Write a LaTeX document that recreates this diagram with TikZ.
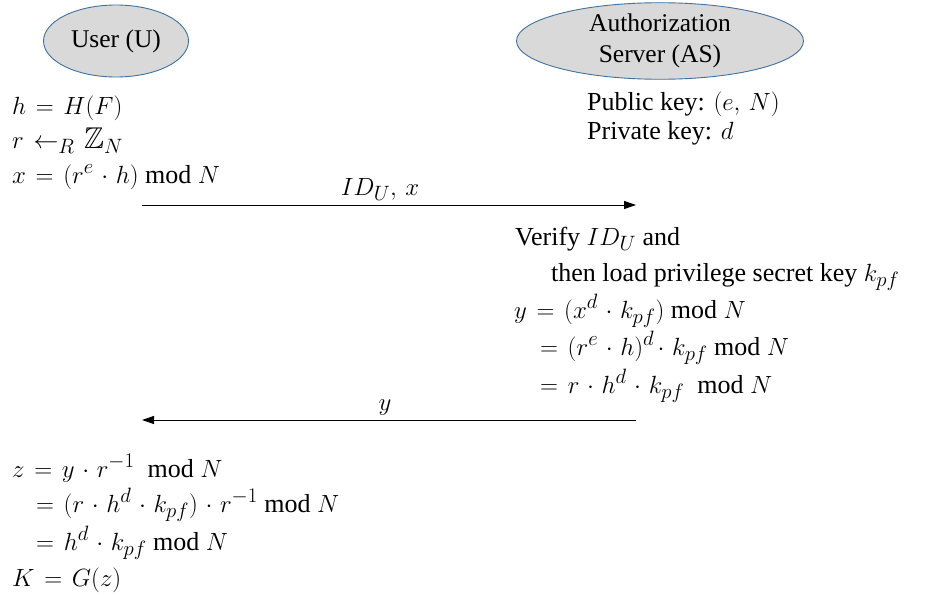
\documentclass[tikz,border=0pt]{standalone}
\usepackage{amssymb}
\usepackage{fontspec}
\setmainfont{Liberation Serif}
\usetikzlibrary{arrows.meta,shapes.geometric}
\DeclareMathSizes{26}{30}{22}{16}
\definecolor{ellfill}{HTML}{D9D9D9}
\definecolor{elldraw}{HTML}{41719C}
\tikzset{
  party/.style={ellipse, draw=elldraw, fill=ellfill, line width=0.9pt, inner sep=0pt, align=center, font=\fontsize{25.5}{30}\selectfont},
  txt/.style={anchor=base west, inner sep=0pt, font=\fontsize{26}{30}\selectfont},
  msg/.style={line width=1pt, -{Triangle[length=12pt,width=8pt]}},
  lbl/.style={anchor=base, inner sep=0pt, font=\fontsize{26}{30}\selectfont}
}
\medmuskip=5.5mu plus 2mu minus 4mu
\thickmuskip=7mu plus 5mu
\begin{document}
\begin{tikzpicture}[x=1pt,y=-1pt]
\useasboundingbox (0,0) rectangle (932,597);
\node[party, minimum width=145pt, minimum height=72pt] (U) at (116,41) {User (U)};
\node[party, minimum width=287pt, minimum height=72pt] (AS) at (660,41) {Authorization\\[1pt]Server (AS)};
\node[txt] (pk) at (587,110) {Public key: $(e,\,N)$};
\node[txt] (sk) at (587,139) {Private key: $d$};
\node[txt] (u1) at (12,114) {$h = H(F)$};
\node[txt] (u2) at (12,148) {$r \leftarrow_R \mathbb{Z}_N$};
\node[txt] (u3) at (12,183) {$x = (r^e\cdot h)$ mod $N$};
\coordinate (a1s) at (142,205);
\coordinate (a1e) at (636,205);
\draw[msg] (a1s) -- (a1e);
\node[lbl] (l1) at (380,195) {$ID_U,\, x$};
\node[txt] (v1) at (515,245) {Verify $ID_U$ and};
\node[txt] (v2) at (551,281) {then load privilege secret key $k_{pf}$};
\node[txt] (v3) at (514,318) {$y = \bigl(x^d\cdot k_{pf}\bigr)$ mod $N$};
\node[txt] (v4) at (540,355) {$= (r^e\cdot h)^d\!\cdot k_{pf}$ mod $N$};
\node[txt] (v5) at (540,393) {$= r\cdot h^d\cdot k_{pf}$\ \ mod $N$};
\coordinate (a2s) at (636,420);
\coordinate (a2e) at (142,420);
\draw[msg] (a2s) -- (a2e);
\node[lbl] (l2) at (385,410) {$y$};
\node[txt] (z1) at (12,477) {$z = y\cdot r^{-1}$\ \ mod $N$};
\node[txt] (z2) at (36,512) {$= (r\cdot h^d\cdot k_{pf})\cdot r^{-1}$ mod $N$};
\node[txt] (z3) at (36,550) {$= h^d\cdot k_{pf}$ mod $N$};
\node[txt] (z4) at (12,586) {$K = G(z)$};
\end{tikzpicture}
\end{document}
